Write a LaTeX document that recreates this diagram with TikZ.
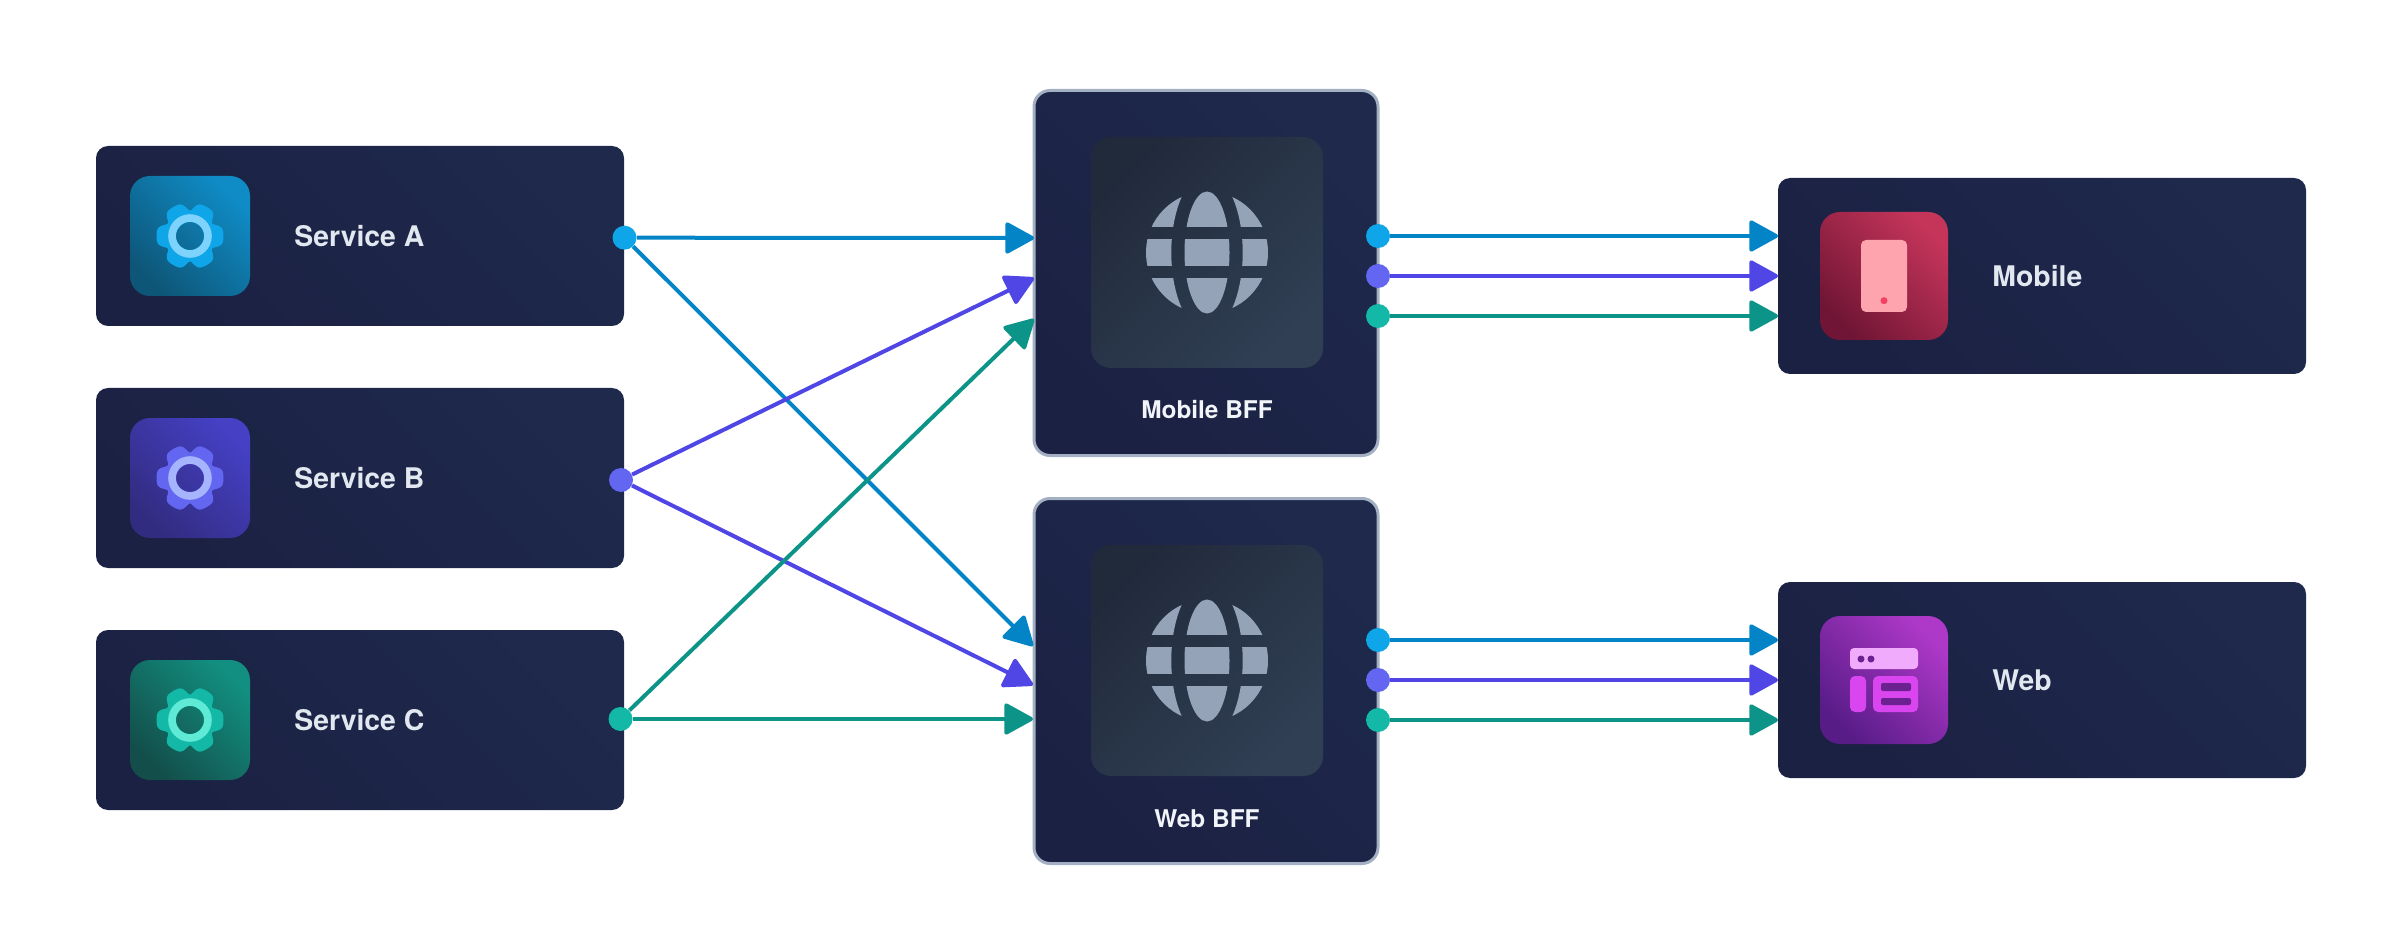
\documentclass[tikz,border=0pt]{standalone}
\usepackage{fontspec}
\setmainfont{TeX Gyre Heros}
\usetikzlibrary{arrows.meta}

\definecolor{boxdark}{HTML}{1B2143}
\definecolor{boxlight}{HTML}{1E294C}
\definecolor{boxline}{HTML}{A3B0C4}
\definecolor{slatedark}{HTML}{212A3B}
\definecolor{slatelight}{HTML}{303F54}
\definecolor{globecol}{HTML}{94A3B8}
\definecolor{labelcol}{HTML}{E2E8F0}
\definecolor{bfflabel}{HTML}{F1F5F9}
\definecolor{skyport}{HTML}{0EA5E9}
\definecolor{skyline}{HTML}{0284C7}
\definecolor{skyring}{HTML}{7DD3FC}
\definecolor{skydark}{HTML}{0E5678}
\definecolor{skylight}{HTML}{0F8CC6}
\definecolor{indigoport}{HTML}{6366F1}
\definecolor{indigoline}{HTML}{4F46E5}
\definecolor{indigoring}{HTML}{A5B4FC}
\definecolor{indigodark}{HTML}{322C80}
\definecolor{indigolight}{HTML}{4540C4}
\definecolor{tealport}{HTML}{14B8A6}
\definecolor{tealline}{HTML}{0D9488}
\definecolor{tealring}{HTML}{5EEAD4}
\definecolor{tealdark}{HTML}{134E4A}
\definecolor{teallight}{HTML}{128F80}
\definecolor{rosedark}{HTML}{701535}
\definecolor{roselight}{HTML}{C5355A}
\definecolor{phonecol}{HTML}{FDA4AF}
\definecolor{phonedot}{HTML}{F43F5E}
\definecolor{purpledark}{HTML}{581C87}
\definecolor{purplelight}{HTML}{AE38C8}
\definecolor{layouttop}{HTML}{F0ABFC}
\definecolor{layoutcol}{HTML}{D946EF}
\definecolor{layouthole}{HTML}{6B2190}

\tikzset{
	diag/.style 2 args = {shade, bottom color=#1, top color=#2, shading angle=-45},
	servicebox/.style = {diag={boxdark}{boxlight}, rounded corners=6pt, minimum width=264pt, minimum height=90pt},
	clientbox/.style = {diag={boxdark}{boxlight}, rounded corners=6pt, minimum width=264pt, minimum height=98pt},
	bffbox/.style = {diag={boxdark}{boxlight}, draw=boxline, line width=1.5pt, rounded corners=8pt, minimum width=172pt, minimum height=182.5pt},
	bfftile/.style = {diag={slatedark}{slatelight}, shading angle=-135, rounded corners=10pt, minimum width=116pt, minimum height=115.5pt},
	icontile/.style = {rounded corners=10pt, minimum size=60pt},
	clienttile/.style = {rounded corners=10pt, minimum size=64pt},
	label/.style = {anchor=west, inner sep=0pt, text=labelcol, font=\fontsize{14.2}{16}\selectfont\bfseries},
	bfflabelstyle/.style = {inner sep=0pt, text=bfflabel, font=\fontsize{12.2}{14}\selectfont\bfseries},
	port/.style = {shape=circle, fill=#1, minimum size=12pt, inner sep=0pt},
	edge/.style = {-{Triangle[length=15.5pt,width=16.5pt,round]}, line width=2pt, draw=#1, #1},
}

% gear: centre, gear colour, ring colour
\newcommand{\gearicon}[3]{
	\begin{scope}[shift={(#1)}]
		\fill[#2, even odd rule] plot[domain=0:360, samples=181] (\x:{33.5-8*pow(0.5-0.5*cos(6*\x),3)}) -- cycle (0,0) circle (14);
		\draw[#3, line width=3.8pt] (0,0) circle (18);
	\end{scope}
}
% globe: centre
\newcommand{\globeicon}[1]{
	\begin{scope}[shift={(#1)}]
		\clip (0,0) circle (61);
		\foreach \ya/\yb in {-61/-26,-13/13,26/61} {
			\begin{scope}
				\clip (-70,\ya) rectangle (70,\yb);
				\fill[globecol, even odd rule] (-90,-90) rectangle (90,90) (0,0) ellipse (35.7 and 78.7) (0,0) ellipse (22.5 and 61);
			\end{scope}
		}
	\end{scope}
}

\begin{document}
\begin{tikzpicture}[x=0.5pt,y=-0.5pt]
	\useasboundingbox (0,0) rectangle (2400,952);
	% Services
	\node[servicebox] (serviceA) at (360,236) {};
	\node[servicebox] (serviceB) at (360,478) {};
	\node[servicebox] (serviceC) at (360,720) {};
	\node[icontile, diag={skydark}{skylight}] (tileA) at (190,236) {};
	\node[icontile, diag={indigodark}{indigolight}] (tileB) at (190,478) {};
	\node[icontile, diag={tealdark}{teallight}] (tileC) at (190,720) {};
	\gearicon{tileA}{skyport}{skyring}
	\gearicon{tileB}{indigoport}{indigoring}
	\gearicon{tileC}{tealport}{tealring}
	\node[label] (labelA) at (294,236) {Service A};
	\node[label] (labelB) at (294,478) {Service B};
	\node[label] (labelC) at (294,720) {Service C};
	% BFFs
	\node[bffbox] (mobilebff) at (1206,273) {};
	\node[bffbox] (webbff) at (1206,681) {};
	\node[bfftile] (mobileglobe) at (1207,252.5) {};
	\node[bfftile] (webglobe) at (1207,660.5) {};
	\globeicon{mobileglobe}
	\globeicon{webglobe}
	\node[bfflabelstyle] (mobilebfflabel) at (1207,410) {Mobile BFF};
	\node[bfflabelstyle] (webbfflabel) at (1207,819) {Web BFF};
	% Clients
	\node[clientbox] (mobile) at (2042,276) {};
	\node[clientbox] (web) at (2042,680) {};
	\node[clienttile, diag={rosedark}{roselight}] (mobiletile) at (1884,276) {};
	\node[clienttile, diag={purpledark}{purplelight}] (webtile) at (1884,680) {};
	\node[label] (mobilelabel) at (1992,276) {Mobile};
	\node[label] (weblabel) at (1992,680) {Web};
	% Phone icon
	\fill[phonecol, rounded corners=2.5pt] (1861,240) rectangle (1907,312);
	\fill[phonedot] (1884,300.7) circle (3.5);
	% Layout icon
	\fill[layouttop, rounded corners=2pt] (1850,648) rectangle (1918,669);
	\fill[layouthole] (1861,659) circle (3.5) (1871,659) circle (3.5);
	\fill[layoutcol, rounded corners=2.5pt] (1850,676) rectangle (1866,712);
	\fill[layoutcol, rounded corners=2.5pt] (1873,676) rectangle (1918,712);
	\fill[layouthole, rounded corners=1pt] (1881,683) rectangle (1911,691);
	\fill[layouthole, rounded corners=1pt] (1881,698) rectangle (1911,705);
	% Ports
	\node[port=skyport] (portA) at (624.5,237.7) {};
	\node[port=indigoport] (portB) at (621,480) {};
	\node[port=tealport] (portC) at (620.5,719) {};
	\node[port=skyport] (mobileoutA) at (1378,236) {};
	\node[port=indigoport] (mobileoutB) at (1378,276) {};
	\node[port=tealport] (mobileoutC) at (1378,316) {};
	\node[port=skyport] (weboutA) at (1378,640) {};
	\node[port=indigoport] (weboutB) at (1378,680) {};
	\node[port=tealport] (weboutC) at (1378,720) {};
	% Arrow ends
	\coordinate (mobileinA) at (1034,238);
	\coordinate (mobileinB) at (1034,278);
	\coordinate (mobileinC) at (1034,319);
	\coordinate (webinA) at (1033,646);
	\coordinate (webinB) at (1033,685);
	\coordinate (webinC) at (1033,719);
	\coordinate (mobileendA) at (1778,236);
	\coordinate (mobileendB) at (1778,276);
	\coordinate (mobileendC) at (1778,316);
	\coordinate (webendA) at (1778,640);
	\coordinate (webendB) at (1778,680);
	\coordinate (webendC) at (1778,720);
	% Connectors
	\draw[edge=skyline] (portA) to (mobileinA);
	\draw[edge=skyline] (portA) to (webinA);
	\draw[edge=indigoline] (portB) to (mobileinB);
	\draw[edge=indigoline] (portB) to (webinB);
	\draw[edge=tealline] (portC) to (mobileinC);
	\draw[edge=tealline] (portC) to (webinC);
	\draw[edge=skyline] (mobileoutA) to (mobileendA);
	\draw[edge=indigoline] (mobileoutB) to (mobileendB);
	\draw[edge=tealline] (mobileoutC) to (mobileendC);
	\draw[edge=skyline] (weboutA) to (webendA);
	\draw[edge=indigoline] (weboutB) to (webendB);
	\draw[edge=tealline] (weboutC) to (webendC);
\end{tikzpicture}
\end{document}
